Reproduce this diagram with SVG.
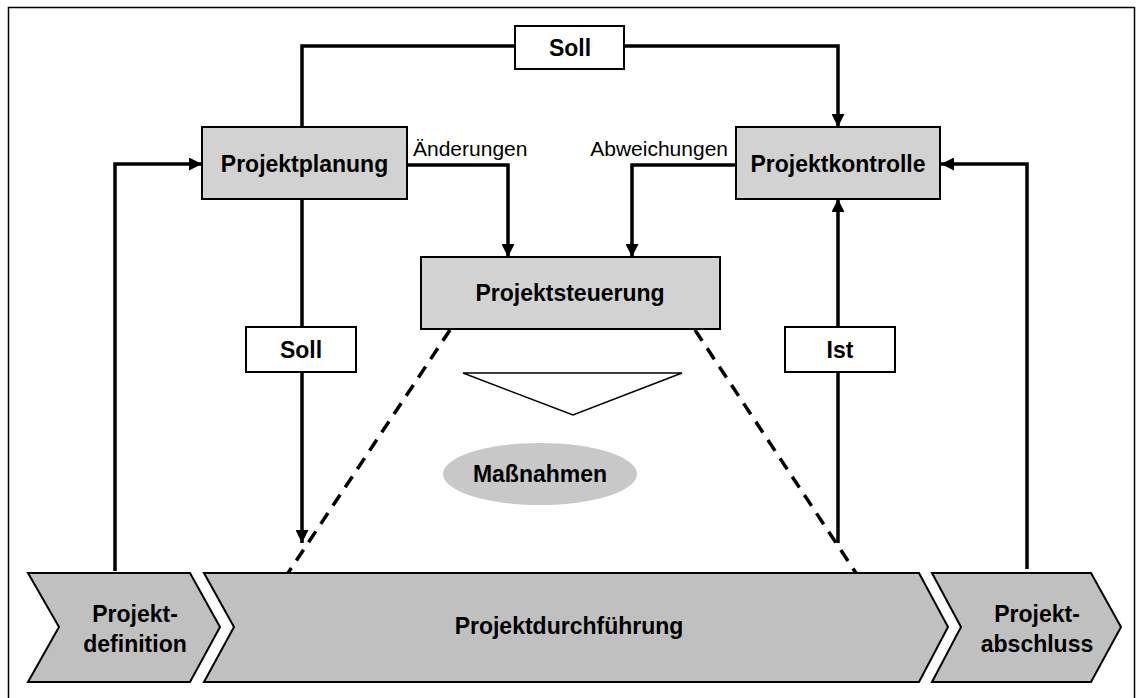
<svg xmlns="http://www.w3.org/2000/svg" width="1136" height="698" viewBox="0 0 1136 698">
<defs>
<marker id="ah" viewBox="0 0 12 12" refX="12" refY="6" markerWidth="13" markerHeight="13" markerUnits="userSpaceOnUse" orient="auto">
<path d="M0,0 L12,6 L0,12 Z" fill="#000"/>
</marker>
<style>
.box{fill:#d2d2d2;stroke:#000;stroke-width:2}
.lbl{fill:#fff;stroke:#000;stroke-width:2}
.chev{fill:#c0c0c0;stroke:#000;stroke-width:2}
.con{fill:none;stroke:#000;stroke-width:3.5}
.dash{fill:none;stroke:#000;stroke-width:3.5;stroke-dasharray:13 9}
.tb{font-family:"Liberation Sans",Arial,sans-serif;font-weight:bold;font-size:23px;fill:#000;text-anchor:middle}
.tr{font-family:"Liberation Sans",Arial,sans-serif;font-size:21px;fill:#000}
</style>
</defs>
<rect x="8.5" y="7.5" width="1126" height="710" fill="#fff" stroke="#000" stroke-width="1.5"/>

<g id="connectors">
<path class="con" d="M302,127 V46 H838 V127" marker-end="url(#ah)"/>
<path class="con" d="M302,199 V543" marker-end="url(#ah)"/>
<path class="con" d="M115,571 V164 H202" marker-end="url(#ah)"/>
<path class="con" d="M1027,569 V164 H941" marker-end="url(#ah)"/>
<path class="con" d="M407,165 H508 V257" marker-end="url(#ah)"/>
<path class="con" d="M735,165 H632 V257" marker-end="url(#ah)"/>
<path class="con" d="M838,543 V199" marker-end="url(#ah)"/>
<path class="dash" d="M450,330 L288,573"/>
<path class="dash" d="M695,330 L856,573"/>
</g>

<g id="soll-top">
<rect class="lbl" x="515" y="26" width="109" height="43"/>
<text class="tb" x="570" y="56">Soll</text>
</g>

<g id="projektplanung">
<rect class="box" x="202" y="127" width="205" height="72"/>
<text class="tb" x="304.5" y="172">Projektplanung</text>
</g>

<g id="projektkontrolle">
<rect class="box" x="736" y="127" width="204" height="72"/>
<text class="tb" x="838" y="172">Projektkontrolle</text>
</g>

<g id="aenderungen">
<text class="tr" x="413" y="156">Änderungen</text>
</g>

<g id="abweichungen">
<text class="tr" x="728" y="156" text-anchor="end">Abweichungen</text>
</g>

<g id="projektsteuerung">
<rect class="box" x="421" y="257" width="299" height="72"/>
<text class="tb" x="570" y="301">Projektsteuerung</text>
</g>

<g id="soll-left">
<rect class="lbl" x="246" y="327" width="110" height="45"/>
<text class="tb" x="301" y="358">Soll</text>
</g>

<g id="ist">
<rect class="lbl" x="785" y="327" width="110" height="45"/>
<text class="tb" x="840" y="358">Ist</text>
</g>

<g id="triangle">
<polygon points="463,373 682,373 573,415" fill="#fff" stroke="#000" stroke-width="1.5"/>
</g>

<g id="massnahmen">
<ellipse cx="540" cy="474" rx="97" ry="31" fill="#c8c8c8"/>
<text class="tb" x="540" y="482">Maßnahmen</text>
</g>

<g id="projektdefinition">
<polygon class="chev" points="28,573 190,573 220,627 190,682 28,682 59,627"/>
<text class="tb" x="135" y="622">Projekt-</text>
<text class="tb" x="135" y="652">definition</text>
</g>

<g id="projektdurchfuehrung">
<polygon class="chev" points="204,573 919,573 948,627 919,682 204,682 234,627"/>
<text class="tb" x="569" y="634">Projektdurchführung</text>
</g>

<g id="projektabschluss">
<polygon class="chev" points="932,573 1091,573 1121,627 1091,682 932,682 961,627"/>
<text class="tb" x="1037" y="622">Projekt-</text>
<text class="tb" x="1037" y="652">abschluss</text>
</g>
</svg>
